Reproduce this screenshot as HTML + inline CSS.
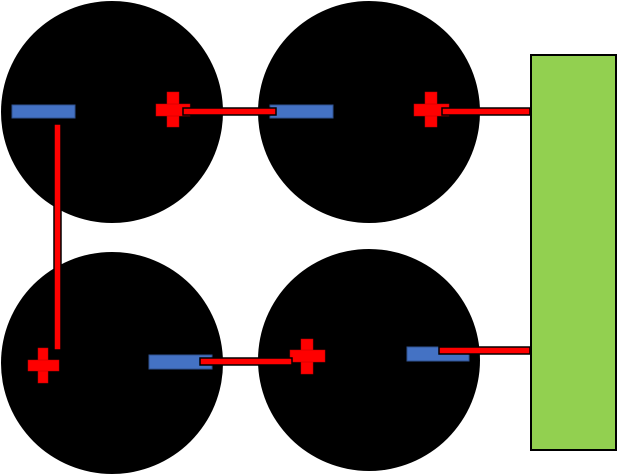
<!DOCTYPE html>
<html><head><style>html,body{margin:0;padding:0;background:#fff;}svg{display:block}</style></head>
<body>
<svg width="617" height="475" viewBox="0 0 617 475" xmlns="http://www.w3.org/2000/svg">
<circle cx="112" cy="112" r="111" fill="#000"/>
<circle cx="369" cy="112" r="111" fill="#000"/>
<circle cx="112" cy="363" r="111" fill="#000"/>
<circle cx="369" cy="360" r="111" fill="#000"/>
<rect x="531" y="55" width="85" height="395" fill="#92d050" stroke="#000" stroke-width="2"/>
<g fill="#4472c4" stroke="#2f528f" stroke-width="1">
<rect x="12" y="105" width="63" height="13"/>
<rect x="270" y="105" width="63" height="13"/>
<rect x="149" y="355" width="63" height="14"/>
<rect x="407" y="347" width="62" height="14"/>
</g>
<g fill="#ff0000" stroke="#c00000" stroke-width="0.5">
<rect x="167" y="92" width="12" height="35"/><rect x="156" y="104" width="34" height="12"/>
<rect x="425" y="92" width="12" height="35"/><rect x="414" y="104" width="35" height="12"/>
<rect x="38" y="348" width="10" height="35"/><rect x="28" y="360" width="31" height="11"/>
<rect x="301" y="339" width="12" height="35"/><rect x="290" y="350" width="35" height="12"/>
</g>
<g fill="#ff0000" stroke="#000" stroke-width="1.5">
<rect x="183" y="108" width="93" height="7"/>
<rect x="442" y="108" width="88" height="7"/>
<rect x="54" y="124" width="7" height="226"/>
<rect x="200" y="358" width="92" height="7"/>
<rect x="439" y="347" width="91" height="7"/>
</g>
</svg>
</body></html>
